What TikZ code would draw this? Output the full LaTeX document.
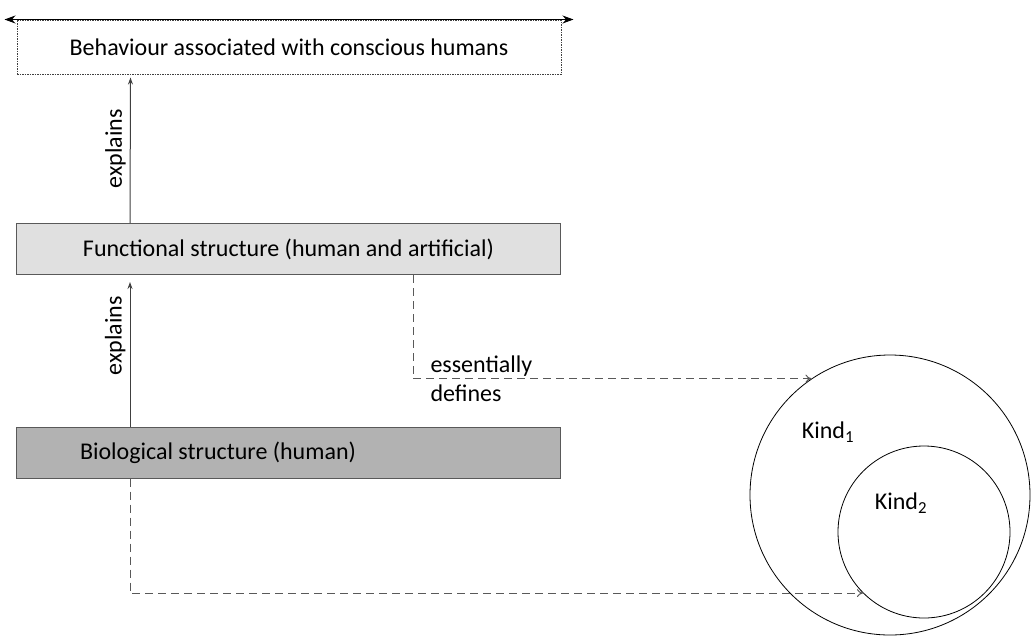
\documentclass[tikz,border=0pt]{standalone}
\usepackage{fontspec}
\setmainfont{Carlito}
\usetikzlibrary{arrows, arrows.meta}

\begin{document}
\begin{tikzpicture}[x=1pt,y=-1pt,
  font=\fontsize{24}{29}\selectfont,
  box/.style={draw=black!65, line width=1pt, minimum width=544pt, minimum height=51pt, inner sep=0pt},
  dashline/.style={draw=black!65, line width=1pt, dash pattern=on 8pt off 5pt, -{To[length=6pt,width=8pt]}},
  uparrow/.style={draw=black!75, line width=1pt, -{Stealth[length=7pt,width=5pt]}}]
\useasboundingbox (0,0) rectangle (1031,638); %page size
\node[box, draw=black!75, dash pattern=on 1.5pt off 1pt, minimum height=54pt] (behav) at (289,47) {Behaviour associated with conscious humans};
\node[box, fill=black!12] (func) at (288.5,249) {Functional structure (human and artificial)};
\node[box, fill=black!30, text width=417pt, inner xsep=63pt, align=flush left] (bio) at (288.5,452.5) {Biological structure (human)};
\node[circle, draw, line width=0.8pt, minimum size=280pt] (kindA) at (890,495) {};
\node[circle, draw, line width=0.8pt, minimum size=172pt] (kindB) at (924,532) {};
\node[] (lblA) at (828,432) {Kind\textsubscript{1}};
\node[] (lblB) at (901,503) {Kind\textsubscript{2}};
\draw[line width=1pt, {Stealth[length=11pt,width=8pt]}-{Stealth[length=11pt,width=8pt]}] ([xshift=-12pt]behav.north west) -- ([xshift=12pt]behav.north east);
\draw[uparrow, shorten >=3pt] ([xshift=-158.5pt]func.north) -- ([xshift=-158.5pt]behav.south)
  node[midway, rotate=90, anchor=south, inner sep=4pt, black] {explains};
\draw[uparrow, shorten >=7pt] ([xshift=-158.5pt]bio.north) -- ([xshift=-158.5pt]func.south)
  node[pos=0.6, rotate=90, anchor=south, inner sep=4pt, black] {explains};
\draw[dashline] ([xshift=124.5pt]func.south) |- (kindA.124)
  node[pos=0.5, anchor=west, align=left, inner xsep=17pt, black] {essentially\\defines};
\draw[dashline] ([xshift=-158.5pt]bio.south) |- (kindB.225);
\end{tikzpicture}
\end{document}
